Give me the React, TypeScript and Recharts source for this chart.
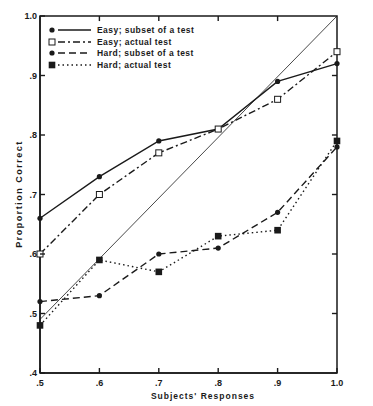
import React from 'react';
import { LineChart, Line, XAxis, YAxis, ReferenceLine, ReferenceArea } from 'recharts';

// subjects' stated response level (x)
const responses = [0.5, 0.6, 0.7, 0.8, 0.9, 1.0];

// proportion correct for each condition
const easySubset = [0.66, 0.73, 0.79, 0.81, 0.89, 0.92];
const easyActual = [0.6, 0.7, 0.77, 0.81, 0.86, 0.94];
const hardSubset = [0.52, 0.53, 0.6, 0.61, 0.67, 0.78];
const hardActual = [0.48, 0.59, 0.57, 0.63, 0.64, 0.79];

const xTicks = [0.5, 0.6, 0.7, 0.8, 0.9, 1.0];
const xTickLabels = ['.5', '.6', '.7', '.8', '.9', '1.0'];
const yTicks = [0.4, 0.5, 0.6, 0.7, 0.8, 0.9, 1.0];
const yTickLabels = ['.4', '.5', '.6', '.7', '.8', '.9', '1.0'];

const seriesNames = [
  'Easy; subset of a test',
  'Easy; actual test',
  'Hard; subset of a test',
  'Hard; actual test',
];

const INK = '#1a1a1a';
const FONT = '"Liberation Sans", Arial, sans-serif';

// inward tick length on the top and right frame, in data units (~5px)
const TOP_TICK = 0.0085;
const RIGHT_TICK = 0.0085;

const data = responses.map((r, i) => ({
  r,
  easySubset: easySubset[i],
  easyActual: easyActual[i],
  hardSubset: hardSubset[i],
  hardActual: hardActual[i],
}));

type Marker = 'circle' | 'openSquare' | 'square';

const series: { key: string; name: string; dash?: string; marker: Marker }[] = [
  { key: 'easySubset', name: seriesNames[0], marker: 'circle' },
  { key: 'easyActual', name: seriesNames[1], dash: '7 3 2 3', marker: 'openSquare' },
  { key: 'hardSubset', name: seriesNames[2], dash: '7 4', marker: 'circle' },
  { key: 'hardActual', name: seriesNames[3], dash: '1.5 3', marker: 'square' },
];

const drawMarker = (marker: Marker, cx: number, cy: number, key?: any) => {
  if (marker === 'circle') {
    return <circle key={key} cx={cx} cy={cy} r={2.6} fill={INK} stroke="none" />;
  }
  if (marker === 'openSquare') {
    return (
      <rect key={key} x={cx - 3} y={cy - 3} width={6} height={6} fill="#fff" stroke={INK} strokeWidth={1} />
    );
  }
  return <rect key={key} x={cx - 3.3} y={cy - 3.3} width={6.6} height={6.6} fill={INK} stroke="none" />;
};

const BottomTick = (props: any) => {
  const { x, y, index } = props;
  return (
    <g>
      <line x1={x} y1={y} x2={x} y2={y - 5} stroke={INK} strokeWidth={1.4} />
      <text x={x} y={y + 13} textAnchor="middle" fontSize={9} fontWeight="bold" fill={INK} fontFamily={FONT}>
        {xTickLabels[index]}
      </text>
    </g>
  );
};

const LeftTick = (props: any) => {
  const { x, y, index } = props;
  return (
    <g>
      <line x1={x} y1={y} x2={x + 5} y2={y} stroke={INK} strokeWidth={1.4} />
      <text x={x - 3} y={y + 3} textAnchor="end" fontSize={9} fontWeight="bold" fill={INK} fontFamily={FONT}>
        {yTickLabels[index]}
      </text>
    </g>
  );
};

const LegendBox = () => (
  <div
    style={{
      position: 'absolute',
      left: 47,
      top: 24,
      fontFamily: FONT,
      fontSize: 8.5,
      fontWeight: 'bold',
      color: INK,
      letterSpacing: 0.45,
    }}
  >
    {series.map((s) => (
      <div key={s.key} style={{ display: 'flex', alignItems: 'center', height: 11.7 }}>
        <svg width={46} height={10} style={{ flex: 'none' }}>
          {drawMarker(s.marker, 5, 5)}
          <line x1={11} y1={5} x2={44} y2={5} stroke={INK} strokeWidth={1.3} strokeDasharray={s.dash} />
        </svg>
        <span style={{ marginLeft: 4, whiteSpace: 'nowrap' }}>{s.name}</span>
      </div>
    ))}
  </div>
);

export default function App() {
  return (
    <div style={{ position: 'absolute', left: 0, top: 0, width: 373, height: 406, background: '#fff' }}>
      <LineChart width={373} height={406} data={data} margin={{ top: 16, right: 36, bottom: 0, left: 0 }}>
        <XAxis
          dataKey="r"
          type="number"
          domain={[0.5, 1.0]}
          ticks={xTicks}
          interval={0}
          height={33}
          tickSize={0}
          tickMargin={0}
          tickLine={false}
          axisLine={{ stroke: INK, strokeWidth: 1.5 }}
          tick={<BottomTick />}
        />
        <YAxis
          type="number"
          domain={[0.4, 1.0]}
          ticks={yTicks}
          interval={0}
          width={40}
          tickSize={0}
          tickMargin={0}
          tickLine={false}
          axisLine={{ stroke: INK, strokeWidth: 1.5 }}
          tick={<LeftTick />}
        />
        <ReferenceArea
          x1={0.5}
          x2={1.0}
          y1={0.4}
          y2={1.0}
          fill="none"
          fillOpacity={0}
          stroke={INK}
          strokeWidth={1.5}
          ifOverflow="visible"
        />
        {xTicks.slice(1, -1).map((t) => (
          <ReferenceLine
            key={`tx${t}`}
            segment={[
              { x: t, y: 1.0 },
              { x: t, y: 1.0 - TOP_TICK },
            ]}
            stroke={INK}
            strokeWidth={1.4}
            ifOverflow="visible"
          />
        ))}
        {yTicks.slice(1, -1).map((t) => (
          <ReferenceLine
            key={`ty${t}`}
            segment={[
              { x: 1.0, y: t },
              { x: 1.0 - RIGHT_TICK, y: t },
            ]}
            stroke={INK}
            strokeWidth={1.4}
            ifOverflow="visible"
          />
        ))}
        <ReferenceLine
          segment={[
            { x: 0.5, y: 0.49 },
            { x: 1.0, y: 1.0 },
          ]}
          stroke={INK}
          strokeWidth={0.8}
          ifOverflow="visible"
        />
        {series.map((s) => (
          <Line
            key={s.key}
            dataKey={s.key}
            name={s.name}
            type="linear"
            stroke={INK}
            strokeWidth={1.4}
            strokeDasharray={s.dash}
            isAnimationActive={false}
            dot={(p: any) => drawMarker(s.marker, p.cx, p.cy, p.index)}
            activeDot={false}
          />
        ))}
        <text
          x={203}
          y={399}
          textAnchor="middle"
          fontSize={8.5}
          fontWeight="bold"
          letterSpacing={1.0}
          fill={INK}
          fontFamily={FONT}
        >
          Subjects' Responses
        </text>
        <text
          x={22}
          y={194}
          transform="rotate(-90 22 194)"
          textAnchor="middle"
          fontSize={9}
          fontWeight="bold"
          letterSpacing={1.5}
          fill={INK}
          fontFamily={FONT}
        >
          Proportion Correct
        </text>
      </LineChart>
      <LegendBox />
    </div>
  );
}
